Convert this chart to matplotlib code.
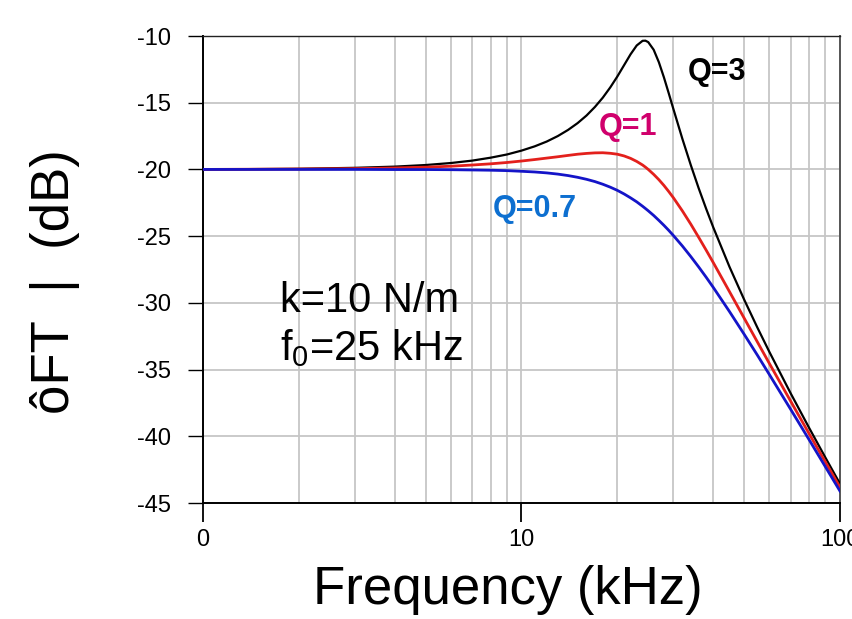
import matplotlib
matplotlib.use("Agg")
import matplotlib.pyplot as plt
from matplotlib.ticker import FixedLocator, NullFormatter

plt.rcParams.update({
    "font.family": ["Liberation Sans", "DejaVu Sans"],
    "axes.unicode_minus": False,
    "mathtext.fontset": "custom",
    "mathtext.rm": "Liberation Sans",
})

# values (kHz, dB)
freq_khz = [1, 2, 3, 4, 5, 6, 7, 8, 9, 10, 11, 12, 13, 14, 15, 16, 17, 18, 19, 20,
            21, 22, 23, 24, 24.5, 25, 26, 27, 28, 29, 30, 32, 34, 36, 38, 40, 45,
            50, 55, 60, 70, 80, 90, 100]
db_q3 = [-20.0, -19.95, -19.88, -19.79, -19.67, -19.52, -19.34, -19.12, -18.88, -18.59,
         -18.27, -17.91, -17.50, -17.04, -16.53, -15.96, -15.32, -14.62, -13.85, -13.03,
         -12.18, -11.37, -10.71, -10.36, -10.35, -10.46, -11.03, -11.97, -13.10, -14.30,
         -15.49, -17.71, -19.67, -21.41, -22.95, -24.34, -27.31, -29.75, -31.84, -33.67,
         -36.78, -39.37, -41.60, -43.56]
db_q1 = [-20.0, -19.97, -19.94, -19.89, -19.83, -19.76, -19.67, -19.58, -19.48, -19.37,
         -19.26, -19.15, -19.05, -18.95, -18.86, -18.80, -18.76, -18.75, -18.79, -18.86,
         -18.99, -19.17, -19.40, -19.67, -19.83, -20.0, -20.37, -20.77, -21.20, -21.66,
         -22.13, -23.11, -24.10, -25.09, -26.05, -26.98, -29.17, -31.14, -32.92, -34.54,
         -37.37, -39.81, -41.93, -43.82]
db_q07 = [-20.0, -20.0, -20.0, -20.01, -20.01, -20.02, -20.04, -20.06, -20.09, -20.14,
          -20.19, -20.26, -20.35, -20.46, -20.59, -20.74, -20.91, -21.11, -21.33, -21.57,
          -21.84, -22.13, -22.43, -22.76, -22.93, -23.10, -23.45, -23.82, -24.19, -24.57,
          -24.96, -25.74, -26.53, -27.31, -28.08, -28.84, -30.66, -32.35, -33.91, -35.37,
          -37.98, -40.26, -42.29, -44.11]

x_ticks = [1, 10, 100]
x_tick_labels = ["0", "10", "100"]
y_ticks = [-45, -40, -35, -30, -25, -20, -15, -10]

fig = plt.figure(figsize=(8.53, 6.19), dpi=100)
ax = fig.add_axes([203 / 853, 1 - 503 / 619, 637 / 853, 467 / 619])

ax.plot(freq_khz, db_q3, color="black", lw=1.6, zorder=3)
ax.plot(freq_khz, db_q1, color="#e3201c", lw=2.0, zorder=4)
ax.plot(freq_khz, db_q07, color="#1414c8", lw=2.0, zorder=5)

ax.set_xscale("log")
ax.set_xlim(1, 100)
ax.set_ylim(-45, -10)
ax.xaxis.set_major_locator(FixedLocator(x_ticks))
ax.set_xticklabels(x_tick_labels)
ax.xaxis.set_minor_locator(FixedLocator([m * d for d in (1, 10) for m in range(2, 10)]))
ax.xaxis.set_minor_formatter(NullFormatter())
ax.set_yticks(y_ticks)
ax.set_yticklabels([str(v) for v in y_ticks])

ax.grid(True, which="major", axis="both", color="#c6c6c6", lw=1.3, zorder=0)
ax.grid(True, which="minor", axis="x", color="#c6c6c6", lw=1.3, zorder=0)
ax.set_axisbelow(True)

ax.tick_params(axis="x", which="major", direction="out", length=13.7, width=1.3,
               pad=5, labelsize=17)
ax.tick_params(axis="x", which="minor", length=0)
ax.tick_params(axis="y", direction="out", length=10.8, width=1.0, pad=12,
               labelsize=17)
for side in ("left", "bottom"):
    ax.spines[side].set_linewidth(1.4)
    ax.spines[side].set_color("black")
ax.spines["top"].set_linewidth(1.0)
ax.spines["top"].set_color("#222222")
ax.spines["right"].set_linewidth(1.4)
ax.spines["right"].set_color("#555555")

fig.text(508 / 853, 1 - 590 / 619, "Frequency (kHz)", ha="center", va="center",
         fontsize=38)
fig.text(55 / 853, 1 - 282 / 619, "ôFT  |  (dB)", ha="center", va="center",
         rotation=90, fontsize=38)

ax.text(0.807, 0.922, "Q=3", transform=ax.transAxes, ha="center", va="center",
        fontsize=22, fontweight="bold", color="black")
ax.text(0.667, 0.805, "Q=1", transform=ax.transAxes, ha="center", va="center",
        fontsize=22, fontweight="bold", color="#d0006c")
ax.text(0.521, 0.630, "Q=0.7", transform=ax.transAxes, ha="center", va="center",
        fontsize=22, fontweight="bold", color="#0d6fd0")
ax.text(0.121, 0.409, "k=10 N/m", transform=ax.transAxes, ha="left",
        va="baseline", fontsize=30)
ax.text(0.121, 0.306, "f$_0$=25 kHz", transform=ax.transAxes, ha="left",
        va="baseline", fontsize=30)

fig.savefig("out.png", dpi=100)
